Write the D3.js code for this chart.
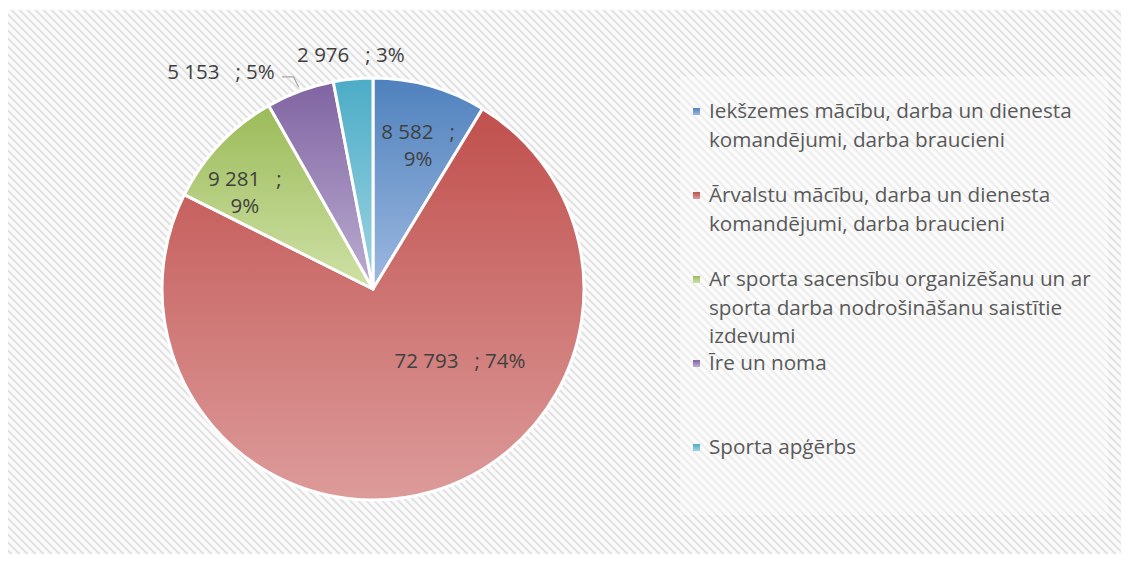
<!DOCTYPE html>
<html><head><meta charset="utf-8">
<script src="https://cdn.jsdelivr.net/npm/d3@7"></script>
<style>html,body{margin:0;padding:0;background:#fff}svg{display:block}text{font-family:"Open Sans",Lato,sans-serif}</style>
</head><body><svg id="c" width="1128" height="561"></svg>
<script>
const categories = [
  "Iekšzemes mācību, darba un dienesta komandējumi, darba braucieni",
  "Ārvalstu mācību, darba un dienesta komandējumi, darba braucieni",
  "Ar sporta sacensību organizēšanu un ar sporta darba nodrošināšanu saistītie izdevumi",
  "Īre un noma",
  "Sporta apģērbs"
];
const legendLines = [
  ["Iekšzemes mācību, darba un dienesta", "komandējumi, darba braucieni"],
  ["Ārvalstu mācību, darba un dienesta", "komandējumi, darba braucieni"],
  ["Ar sporta sacensību organizēšanu un ar", "sporta darba nodrošināšanu saistītie", "izdevumi"],
  ["Īre un noma"],
  ["Sporta apģērbs"]
];
const values = [8582, 72793, 9281, 5153, 2976];
const darkColors = ["#4f81bd", "#c0504d", "#9bbb59", "#8064a2", "#4bacc6"];
const lightColors = ["#9db9e0", "#dc9b9a", "#cfe1a6", "#bcaed2", "#a0d5e4"];
// label placement (angle in degrees clockwise from 12 o'clock, radius as fraction of pie radius)
const labelAngles = [17.5, 129.6, 306.9, 325, 354.6];
const labelRadii = [0.71, 0.535, 0.76, 1.256, 1.114];
const labelWrap = [true, false, true, false, false];

const svg = d3.select("#c");
const defs = svg.append("defs");
const pat = defs.append("pattern").attr("id","stripes").attr("patternUnits","userSpaceOnUse")
  .attr("width",8).attr("height",8);
pat.append("rect").attr("width",8).attr("height",8).attr("fill","#fbfbfb");
pat.append("path").attr("d","M0,0L3,0L8,5L8,8Z M0,5L3,8L0,8Z").attr("fill","#e2e2e2");

svg.append("rect").attr("x",8).attr("y",10).attr("width",1113).attr("height",544).attr("fill","url(#stripes)");
svg.append("rect").attr("x",680).attr("y",76).attr("width",428).attr("height",439).attr("fill","#fff").attr("opacity",0.4);

values.forEach((v,i)=>{
  const g = defs.append("linearGradient").attr("id","g"+i).attr("x1",0).attr("y1",0).attr("x2",0).attr("y2",1);
  g.append("stop").attr("offset","0").attr("stop-color",darkColors[i]);
  g.append("stop").attr("offset","1").attr("stop-color",lightColors[i]);
});

const cx = 373, cy = 289, R = 211;
const total = d3.sum(values);
const pie = d3.pie().sort(null).value(d=>d);
const arcs = pie(values);
const arc = d3.arc().innerRadius(0).outerRadius(R);
const pg = svg.append("g").attr("transform",`translate(${cx},${cy})`);
pg.selectAll("path").data(arcs).join("path")
  .attr("d",arc).attr("fill",(d,i)=>`url(#g${i})`)
  .attr("stroke","#fff").attr("stroke-width",3).attr("stroke-linejoin","round");

const loc = d3.formatLocale({decimal:",", thousands:" ", grouping:[3], currency:["","€"]});
const fmt = loc.format(",d");
const polar = (a, r) => [Math.sin(a*Math.PI/180)*r*R, -Math.cos(a*Math.PI/180)*r*R];

// leader line for the small purple slice
{
  const p = polar(labelAngles[3], labelRadii[3]);
  const ang = (arcs[3].startAngle+arcs[3].endAngle)/2;
  const ex = Math.sin(ang)*(R+4), ey = -Math.cos(ang)*(R+4);
  pg.append("polyline").attr("points",[[p[0]+61,p[1]+5],[ex-5,p[1]+5],[ex,ey]].map(q=>q.join(",")).join(" "))
    .attr("fill","none").attr("stroke","#a6a6a6").attr("stroke-width",1.2);
}

values.forEach((v,i)=>{
  const p = polar(labelAngles[i], labelRadii[i]);
  const pct = Math.round(v/total*100)+"%";
  const t = pg.append("text").attr("text-anchor","middle").attr("fill","#404040")
    .attr("font-size",20.5).style("white-space","pre");
  if (labelWrap[i]) {
    t.append("tspan").attr("x",p[0]).attr("y",p[1]-7).text(fmt(v)+"   ;");
    t.append("tspan").attr("x",p[0]).attr("y",p[1]+20).text(pct);
  } else {
    t.attr("x",p[0]).attr("y",p[1]+7).text(fmt(v)+"   ; "+pct);
  }
});

// legend
const lg = svg.append("g");
legendLines.forEach((lines,i)=>{
  const by = 118 + i*84;
  lg.append("rect").attr("x",693).attr("y",by-10).attr("width",7).attr("height",7).attr("fill",`url(#g${i})`);
  lines.forEach((ln,j)=>{
    lg.append("text").attr("x",709).attr("y",by + j*28.5).attr("fill","#595959").attr("font-size",20.7).text(ln);
  });
});
</script></body></html>
